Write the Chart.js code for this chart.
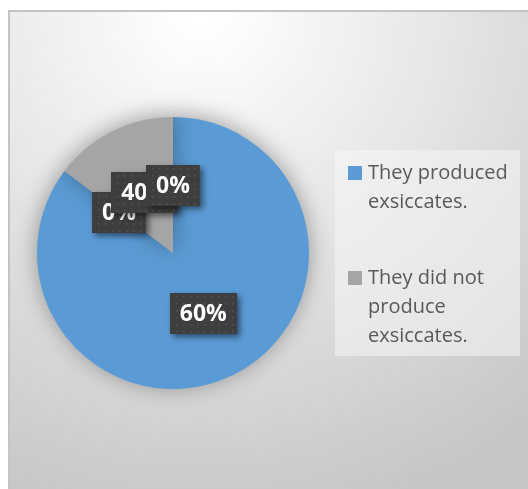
<!DOCTYPE html>
<html>
<head>
<meta charset="utf-8">
<script src="https://cdn.jsdelivr.net/npm/chart.js@4.4.1/dist/chart.umd.min.js"></script>
<style>
  html, body { margin: 0; padding: 0; background: #fff; }
  #wrap { position: relative; width: 528px; height: 489px; }
</style>
</head>
<body>
<div id="wrap"><canvas id="myChart" width="528" height="489"></canvas></div>
<script>
// slice values (angles), plus two empty slices
const sliceValues = [85.3, 14.7, 0, 0];
// the data labels as printed in the original chart
const labelTexts = ["60%", "40%", "0%", "0%"];
// excel pushed the last label aside to avoid overlap
const labelNudge = [[0, 0], [2, 0], [0, 0], [-54, 27]];
const sliceColors = ["#5b9bd5", "#a5a5a5", "#ffc000", "#4472c4"];

const legendItems = [
  ["They produced", "exsiccates."],
  ["They did not", "produce", "exsiccates."],
];
const legendColors = ["#5b9bd5", "#a5a5a5"];

const ctx = document.getElementById("myChart").getContext("2d");

const backgroundPlugin = {
  id: "bg",
  beforeDraw(chart) {
    const c = chart.ctx;
    c.save();
    c.fillStyle = "#ffffff";
    c.fillRect(0, 0, chart.width, chart.height);
    const grad = c.createRadialGradient(200, 10, 10, 200, 10, 520);
    grad.addColorStop(0, "#ffffff");
    grad.addColorStop(0.45, "#e6e6e6");
    grad.addColorStop(1, "#c6c6c6");
    c.fillStyle = grad;
    c.fillRect(9, 11, chart.width - 9, chart.height - 11);
    c.strokeStyle = "#c4c4c4";
    c.lineWidth = 2;
    c.strokeRect(9, 11, chart.width + 10, chart.height + 10);

    // legend panel
    c.fillStyle = "rgba(245,245,245,0.55)";
    c.fillRect(335, 150, 185, 206);
    c.restore();
  },
  beforeDatasetsDraw(chart) {
    const c = chart.ctx;
    c.save();
    c.shadowColor = "rgba(0,0,0,0.35)";
    c.shadowBlur = 22;
    c.shadowOffsetY = -2;
  },
  afterDatasetsDraw(chart) {
    chart.ctx.restore();
  },
};

const labelPlugin = {
  id: "boxLabels",
  afterDraw(chart) {
    const c = chart.ctx;
    const meta = chart.getDatasetMeta(0);
    const order = [3, 1, 2, 0];
    c.save();
    c.font = "bold 23px 'Open Sans', sans-serif";
    c.textAlign = "center";
    c.textBaseline = "middle";
    order.forEach((i) => {
      const arc = meta.data[i];
      const p = arc.getCenterPoint();
      const x = p.x + labelNudge[i][0];
      const y = p.y + labelNudge[i][1];
      const txt = labelTexts[i];
      const w = c.measureText(txt).width + 20;
      const h = 41;
      const bx = Math.round(x - w / 2);
      const by = Math.round(y - h / 2);
      c.save();
      c.shadowColor = "rgba(0,0,0,0.5)";
      c.shadowBlur = 6;
      c.shadowOffsetX = 3;
      c.shadowOffsetY = 3;
      c.fillStyle = "#3e3e3e";
      c.fillRect(bx, by, w, h);
      c.restore();
      // dotted texture
      c.fillStyle = "#555555";
      for (let yy = by + 3; yy < by + h; yy += 7) {
        for (let xx = bx + 3 + ((yy - by) % 14 ? 3 : 0); xx < bx + w; xx += 7) {
          c.fillRect(xx, yy, 1.5, 1.5);
        }
      }
      c.fillStyle = "#ffffff";
      c.fillText(txt, x, y + 1);
    });
    c.restore();
  },
};

const legendPlugin = {
  id: "sideLegend",
  afterDraw(chart) {
    const c = chart.ctx;
    c.save();
    c.font = "20px 'Open Sans', sans-serif";
    c.textBaseline = "middle";
    let y = 173;
    legendItems.forEach((lines, i) => {
      c.fillStyle = legendColors[i];
      c.fillRect(348, y - 7, 14, 14);
      c.fillStyle = "#595959";
      lines.forEach((ln, j) => {
        c.fillText(ln, 368, y + j * 29);
      });
      y += lines.length * 29 + 38 + (i === 0 ? 9 : 0);
    });
    c.restore();
  },
};

const myChart = new Chart(ctx, {
  type: "pie",
  data: {
    labels: legendItems.map((l) => l.join(" ")).concat(["", ""]),
    datasets: [
      {
        data: sliceValues,
        backgroundColor: sliceColors,
        borderWidth: 0,
      },
    ],
  },
  options: {
    responsive: false,
    animation: false,
    layout: { padding: { left: 37, right: 219, top: 117, bottom: 100 } },
    plugins: {
      legend: { display: false },
      tooltip: { enabled: false },
    },
  },
  plugins: [backgroundPlugin, labelPlugin, legendPlugin],
});
</script>
</body>
</html>
